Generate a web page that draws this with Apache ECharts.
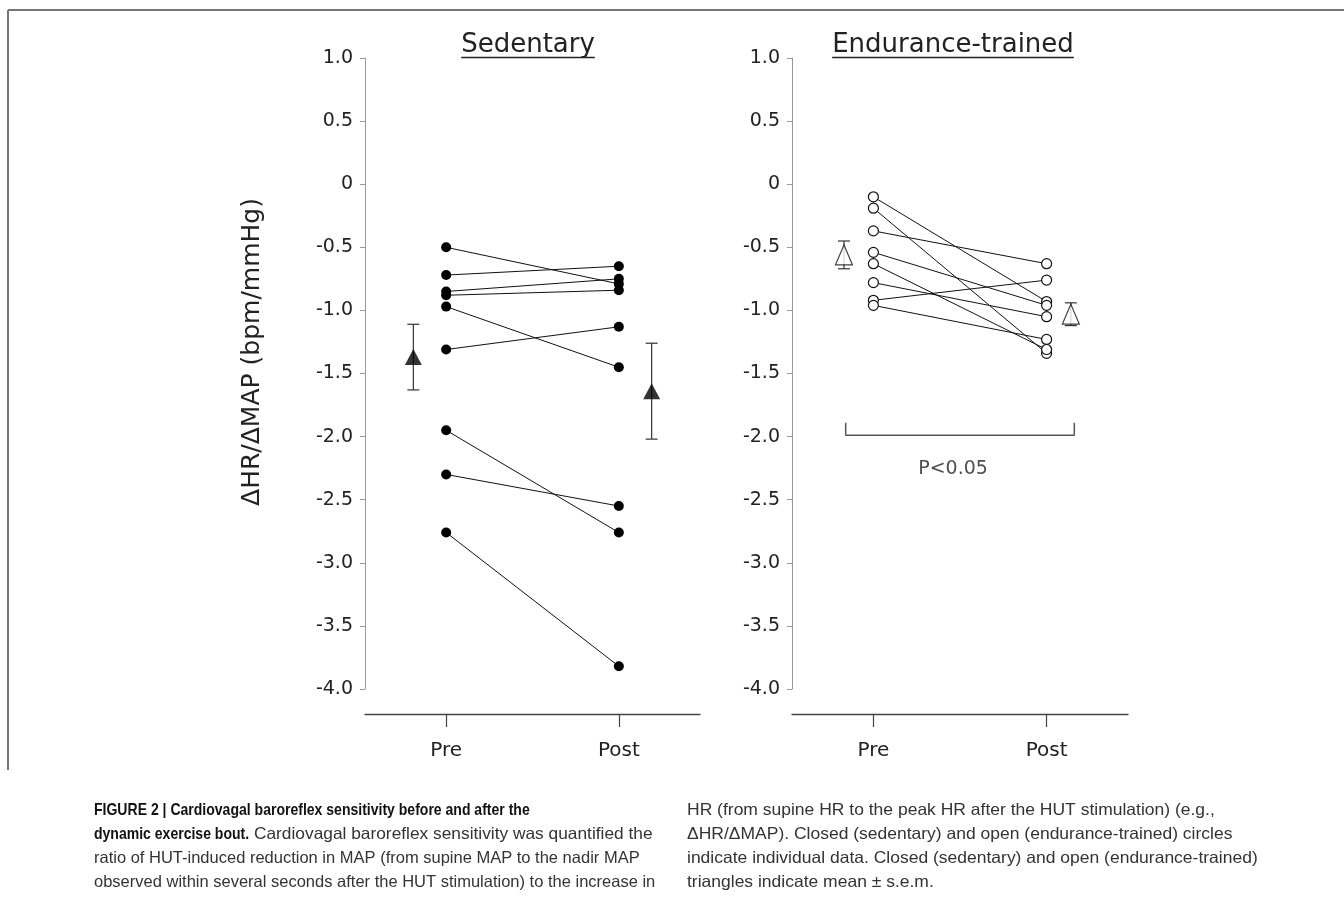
<!DOCTYPE html>
<html><head><meta charset="utf-8">
<script src="https://cdn.jsdelivr.net/npm/echarts@6/dist/echarts.min.js"></script>
<style>html,body{margin:0;padding:0;background:#fff}#c{width:1344px;height:901px}</style>
</head><body><div id="c"></div>
<script>
// ---- data ----
const groups = ['Sedentary', 'Endurance-trained'];
const timeLabels = ['Pre', 'Post'];
const yAxisName = 'ΔHR/ΔMAP (bpm/mmHg)';
const yMin = -4.0, yMax = 1.0, yStep = 0.5;
const sedPre  = [-0.50, -0.72, -0.85, -0.88, -0.97, -1.31, -1.95, -2.30, -2.76];
const sedPost = [-0.79, -0.65, -0.75, -0.84, -1.45, -1.13, -2.76, -2.55, -3.82];
const sedMean = [-1.37, -1.64];
const sedSem  = [0.26, 0.38];
const endPre  = [-0.10, -0.19, -0.37, -0.54, -0.63, -0.78, -0.92, -0.96];
const endPost = [-0.93, -1.34, -0.63, -0.96, -1.31, -1.05, -0.76, -1.23];
const endMean = [-0.56, -1.03];
const endSem  = [0.11, 0.09];
const sedMeanX = [0.81, 2.19];
const endMeanX = [0.83, 2.14];
const sigLabel = 'P<0.05';
const sigBracket = {x0: 0.84, x1: 2.16, y: -1.99, tip: -1.89, labelX: 1.46, labelY: -2.26};
const captionLeft = [
  [{t:'FIGURE 2 | Cardiovagal baroreflex sensitivity before and after the', b:true}],
  [{t:'dynamic exercise bout.', b:true}, {t:' Cardiovagal baroreflex sensitivity was quantified the', b:false}],
  [{t:'ratio of HUT-induced reduction in MAP (from supine MAP to the nadir MAP', b:false}],
  [{t:'observed within several seconds after the HUT stimulation) to the increase in', b:false}]
];
const captionRight = [
  'HR (from supine HR to the peak HR after the HUT stimulation) (e.g.,',
  'ΔHR/ΔMAP). Closed (sedentary) and open (endurance-trained) circles',
  'indicate individual data. Closed (sedentary) and open (endurance-trained)',
  'triangles indicate mean ± s.e.m.'
];

// ---- layout ----
const FONT = '"DejaVu Sans", Verdana, sans-serif';
const CAPFONT = '"Liberation Sans", Arial, sans-serif';
const xMin = 0.53, xMax = 2.47;
const panels = [{left: 365, width: 335, cx: 528}, {left: 792, width: 336, cx: 953}];
const gTop = 58, gH = 631, gHx = 656;

const grids = [], xAxes = [], yAxes = [];
panels.forEach((p, i) => {
  grids.push({left: p.left, top: gTop, width: p.width, height: gH});
  grids.push({left: p.left, top: gTop, width: p.width, height: gHx});
  xAxes.push({gridIndex: 2*i, type: 'value', min: xMin, max: xMax, show: false});
  xAxes.push({gridIndex: 2*i+1, type: 'value', min: xMin, max: xMax, position: 'bottom',
    axisLine: {onZero: false, lineStyle: {color: '#444', width: 1.3}},
    axisTick: {customValues: [1, 2], length: 13, lineStyle: {color: '#444', width: 1.2}},
    axisLabel: {customValues: [1, 2], formatter: v => timeLabels[Math.round(v) - 1],
      fontFamily: FONT, fontSize: 20, color: '#222', margin: 27},
    splitLine: {show: false}});
  yAxes.push({gridIndex: 2*i, type: 'value', min: yMin, max: yMax, interval: yStep,
    axisLine: {show: true, lineStyle: {color: '#999', width: 1}},
    axisTick: {show: true, length: 5, lineStyle: {color: '#999'}},
    axisLabel: {formatter: v => (Math.abs(v) < 1e-9 ? '0' : v.toFixed(1)),
      fontFamily: FONT, fontSize: 19, color: '#222', margin: 12},
    splitLine: {show: false}});
  yAxes.push({gridIndex: 2*i+1, type: 'value', min: yMin, max: yMax, show: false});
});

function errRender(params, api) {
  const x = api.value(0), m = api.value(1), s = api.value(2);
  const t = api.coord([x, m + s]), b = api.coord([x, m - s]);
  const w = 6, st = {stroke: '#333', lineWidth: 1.2};
  return {type: 'group', children: [
    {type: 'line', shape: {x1: t[0], y1: t[1], x2: b[0], y2: b[1]}, style: st},
    {type: 'line', shape: {x1: t[0]-w, y1: t[1], x2: t[0]+w, y2: t[1]}, style: st},
    {type: 'line', shape: {x1: b[0]-w, y1: b[1], x2: b[0]+w, y2: b[1]}, style: st}
  ]};
}

const series = [];
sedPre.forEach((v, i) => series.push({type: 'line', xAxisIndex: 0, yAxisIndex: 0,
  data: [[1, v], [2, sedPost[i]]], symbol: 'circle', symbolSize: 10,
  lineStyle: {color: '#111', width: 1}, itemStyle: {color: '#000'}, z: 3}));
endPre.forEach((v, i) => series.push({type: 'line', xAxisIndex: 2, yAxisIndex: 2,
  data: [[1, v], [2, endPost[i]]], symbol: 'circle', symbolSize: 10,
  lineStyle: {color: '#111', width: 1}, itemStyle: {color: '#fff', borderColor: '#111', borderWidth: 1.2}, z: 3}));
series.push({type: 'custom', xAxisIndex: 0, yAxisIndex: 0, renderItem: errRender,
  data: sedMean.map((m, i) => [sedMeanX[i], m, sedSem[i]]), z: 2});
series.push({type: 'custom', xAxisIndex: 2, yAxisIndex: 2, renderItem: errRender,
  data: endMean.map((m, i) => [endMeanX[i], m, endSem[i]]), z: 2});
series.push({type: 'scatter', xAxisIndex: 0, yAxisIndex: 0, symbol: 'triangle', symbolSize: [17, 16],
  itemStyle: {color: '#000'}, data: sedMean.map((m, i) => [sedMeanX[i], m]), z: 4});
series.push({type: 'scatter', xAxisIndex: 2, yAxisIndex: 2, symbol: 'triangle', symbolSize: [17, 20],
  itemStyle: {color: '#fff', borderColor: '#111', borderWidth: 1.2},
  data: endMean.map((m, i) => [endMeanX[i], m]), z: 4});
series.push({type: 'line', xAxisIndex: 2, yAxisIndex: 2, symbol: 'none',
  lineStyle: {color: '#555', width: 1.5},
  data: [[sigBracket.x0, sigBracket.tip], [sigBracket.x0, sigBracket.y], [sigBracket.x1, sigBracket.y], [sigBracket.x1, sigBracket.tip]]});
series.push({type: 'scatter', xAxisIndex: 2, yAxisIndex: 2, symbolSize: 1, itemStyle: {color: 'rgba(0,0,0,0)'},
  label: {show: true, position: 'inside', formatter: sigLabel, fontFamily: FONT, fontSize: 19, color: '#222'},
  data: [[sigBracket.labelX, sigBracket.labelY]]});

// ---- graphics: titles, axis name, caption, frame ----
const mctx = document.createElement('canvas').getContext('2d');
function tw(t, f) { mctx.font = f; return mctx.measureText(t).width; }
const graphic = [];
graphic.push({type: 'line', shape: {x1: 8, y1: 10, x2: 1344, y2: 10}, style: {stroke: '#777', lineWidth: 2}});
graphic.push({type: 'line', shape: {x1: 8, y1: 10, x2: 8, y2: 770}, style: {stroke: '#777', lineWidth: 2}});
groups.forEach((g, i) => {
  const cx = panels[i].cx, f = '26px ' + FONT, w = tw(g, f);
  graphic.push({type: 'text', x: cx, y: 45, style: {text: g, font: f, fill: '#222', align: 'center', verticalAlign: 'middle'}});
  graphic.push({type: 'line', shape: {x1: cx - w/2, y1: 57.5, x2: cx + w/2, y2: 57.5}, style: {stroke: '#222', lineWidth: 1.5}});
});
graphic.push({type: 'text', x: 252, y: 352, rotation: Math.PI/2,
  style: {text: yAxisName, font: '25px ' + FONT, fill: '#222', align: 'center', verticalAlign: 'middle'}});
const capY = [810, 834, 858, 882];
const BOLDSCALE = 0.85;
captionLeft.forEach((parts, k) => {
  let x = 94;
  parts.forEach(p => {
    const f = (p.b ? 'bold ' : '') + '16.5px ' + CAPFONT;
    const sx = p.b ? BOLDSCALE : (k === 1 ? 1.05 : 1);
    graphic.push({type: 'text', x: x, y: capY[k], scaleX: sx, style: {text: p.t, font: f, fill: p.b ? '#111' : '#333', align: 'left', verticalAlign: 'middle'}});
    x += tw(p.t, f) * sx;
  });
});
captionRight.forEach((t, k) => {
  graphic.push({type: 'text', x: 687, y: capY[k], scaleX: 1.06, style: {text: t, font: '16.5px ' + CAPFONT, fill: '#333', align: 'left', verticalAlign: 'middle'}});
});

const chart = echarts.init(document.getElementById('c'), null, {renderer: 'canvas'});
chart.setOption({animation: false, backgroundColor: '#fff', grid: grids, xAxis: xAxes, yAxis: yAxes, series: series, graphic: graphic});
</script></body></html>
